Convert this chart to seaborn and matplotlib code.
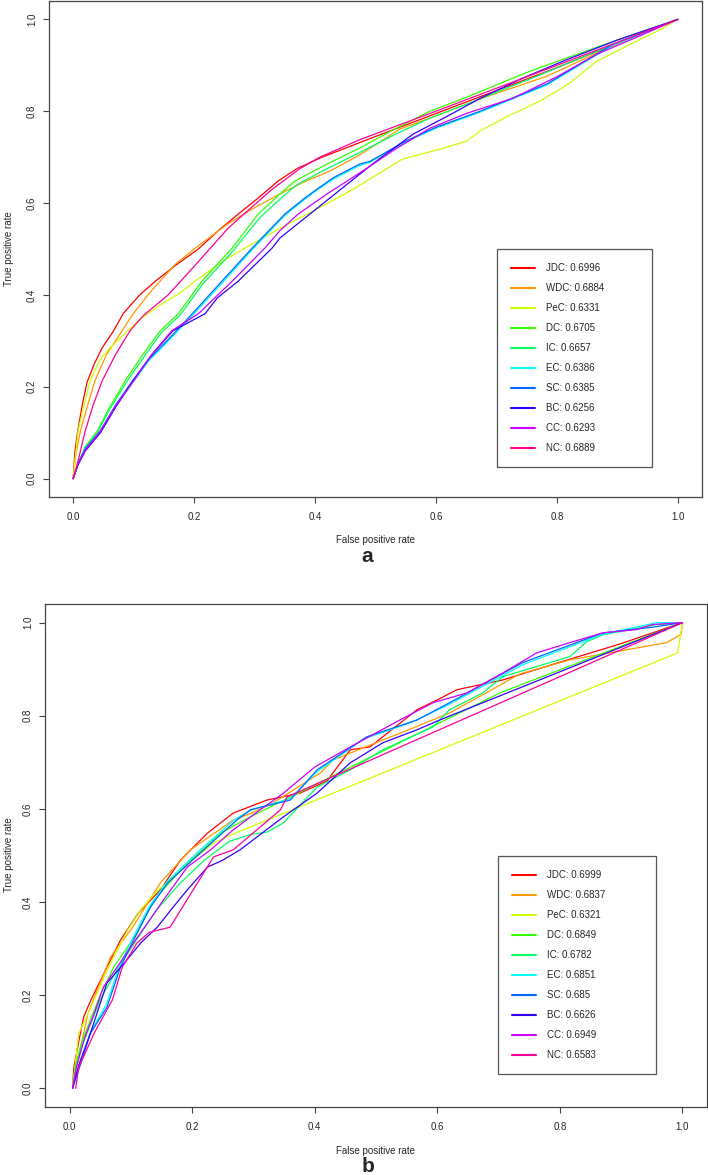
import numpy as np
import pandas as pd
import matplotlib
matplotlib.use('Agg')
import matplotlib.pyplot as plt
import seaborn as sns
from matplotlib.lines import Line2D

sns.set_theme(style='white')
plt.rcParams['font.family'] = ['Liberation Sans', 'DejaVu Sans']

# centrality measures, legend AUC values and R rainbow(10) colours
methods = ['JDC', 'WDC', 'PeC', 'DC', 'IC', 'EC', 'SC', 'BC', 'CC', 'NC']
auc_a = ['0.6996', '0.6884', '0.6331', '0.6705', '0.6657', '0.6386', '0.6385', '0.6256', '0.6293', '0.6889']
auc_b = ['0.6999', '0.6837', '0.6321', '0.6849', '0.6782', '0.6851', '0.685', '0.6626', '0.6949', '0.6583']
colors = ['#FF0000', '#FF9900', '#CCFF00', '#33FF00', '#00FF66',
          '#00FFFF', '#0066FF', '#3300FF', '#CC00FF', '#FF0099']
tick_vals = [0.0, 0.2, 0.4, 0.6, 0.8, 1.0]
tick_labels = ['0.0', '0.2', '0.4', '0.6', '0.8', '1.0']

# ---- panel a ----
jdc_a_x = [0, .003, .007, .015, .023, .035, .048, .066, .083, .11, .136, .17, .207, .24, .273, .305, .339, .37, .408, .5, .6, .7, .8, .9, 1]
jdc_a_y = [0, .06, .10, .16, .21, .25, .285, .32, .36, .40, .43, .465, .50, .54, .576, .61, .648, .675, .698, .745, .795, .845, .895, .948, 1]
wdc_a_x = [0, .004, .012, .024, .036, .055, .081, .099, .13, .169, .21, .255, .30, .342, .38, .425, .474, .54, .6, .68, .783, .88, 1]
wdc_a_y = [0, .05, .104, .16, .213, .27, .322, .359, .41, .467, .51, .554, .59, .62, .645, .67, .705, .761, .79, .83, .876, .935, 1]
pec_a_x = [0, .004, .008, .018, .028, .045, .061, .073, .107, .14, .174, .218, .25, .284, .342, .40, .463, .50, .545, .6, .651, .673, .72, .772, .82, .866, .92, .975, 1]
pec_a_y = [0, .05, .104, .16, .213, .26, .285, .30, .343, .375, .402, .446, .475, .502, .545, .585, .63, .66, .696, .715, .735, .757, .79, .822, .86, .909, .945, .98, 1]
dc_a_x = [0, .008, .02, .04, .06, .086, .115, .144, .174, .213, .263, .306, .342, .367, .42, .474, .53, .59, .65, .755, .893, 1]
dc_a_y = [0, .033, .07, .104, .155, .213, .27, .322, .359, .43, .502, .576, .62, .648, .685, .72, .76, .80, .83, .887, .952, 1]
ic_a_x = [0, .008, .02, .04, .06, .088, .117, .146, .176, .215, .265, .31, .345, .37, .42, .474, .53, .59, .65, .755, .893, 1]
ic_a_y = [0, .03, .068, .10, .15, .21, .265, .318, .355, .425, .497, .57, .612, .64, .675, .71, .748, .785, .815, .87, .945, 1]
ec_a_x = [0, .008, .02, .045, .07, .099, .126, .156, .198, .247, .297, .35, .383, .403, .43, .474, .491, .55, .6, .673, .783, .893, 1]
ec_a_y = [0, .031, .063, .102, .158, .21, .258, .298, .356, .427, .5, .573, .608, .628, .652, .682, .689, .733, .763, .798, .857, .944, 1]
sc_a_x = [0, .008, .02, .045, .07, .098, .125, .155, .197, .246, .296, .35, .383, .403, .43, .474, .491, .55, .6, .673, .783, .893, 1]
sc_a_y = [0, .033, .065, .104, .16, .213, .26, .30, .359, .43, .502, .576, .611, .63, .655, .685, .691, .735, .765, .80, .859, .946, 1]
bc_a_x = [0, .008, .02, .045, .07, .099, .13, .165, .218, .238, .273, .329, .342, .40, .453, .50, .562, .62, .673, .74, .81, .9, 1]
bc_a_y = [0, .03, .06, .10, .155, .213, .27, .322, .359, .393, .43, .502, .524, .585, .641, .69, .75, .79, .828, .87, .909, .955, 1]
cc_a_x = [0, .008, .02, .045, .07, .1, .13, .163, .207, .263, .317, .342, .372, .42, .479, .53, .59, .65, .727, .8, .866, .93, 1]
cc_a_y = [0, .032, .062, .104, .158, .213, .27, .322, .359, .43, .502, .54, .576, .62, .670, .715, .763, .795, .828, .875, .924, .96, 1]
nc_a_x = [0, .007, .02, .033, .048, .07, .094, .116, .157, .202, .256, .29, .329, .375, .408, .474, .6, .7, .8, .9, 1]
nc_a_y = [0, .033, .104, .16, .213, .27, .322, .355, .40, .465, .545, .585, .63, .675, .70, .738, .80, .85, .9, .95, 1]

# ---- panel b ----
jdc_b_x = [.005, .007, .015, .023, .035, .045, .061, .083, .112, .148, .181, .225, .267, .322, .376, .42, .458, .49, .567, .6, .632, .707, .8, .9, 1]
jdc_b_y = [0, .045, .10, .153, .19, .217, .26, .318, .376, .426, .49, .548, .591, .619, .634, .66, .727, .733, .813, .834, .856, .877, .915, .955, 1]
wdc_b_x = [.005, .01, .02, .03, .045, .067, .103, .148, .197, .267, .295, .332, .409, .43, .511, .544, .62, .653, .674, .735, .816, .974, .998, 1]
wdc_b_y = [0, .04, .10, .16, .21, .282, .346, .441, .512, .576, .59, .613, .677, .705, .748, .765, .806, .83, .845, .89, .92, .957, .975, 1]
pec_b_x = [.005, .01, .015, .03, .045, .06, .078, .095, .116, .14, .169, .2, .235, .27, .992, 1]
pec_b_y = [0, .06, .118, .16, .204, .25, .297, .34, .383, .42, .454, .49, .527, .548, .935, 1]
dc_b_x = [.005, .01, .02, .035, .05, .072, .11, .137, .186, .246, .295, .702, 1]
dc_b_y = [0, .05, .10, .15, .2, .26, .333, .404, .475, .548, .583, .849, 1]
ic_b_x = [.005, .01, .02, .035, .05, .075, .11, .14, .18, .22, .26, .295, .322, .349, .404, .458, .511, .593, .62, .674, .707, .816, .844, .87, .958, 1]
ic_b_y = [0, .04, .09, .14, .19, .25, .32, .38, .44, .49, .53, .545, .55, .57, .647, .684, .727, .776, .813, .849, .884, .927, .959, .974, .996, 1]
ec_b_x = [.005, .01, .02, .034, .06, .082, .108, .13, .16, .21, .27, .3, .36, .404, .48, .56, .62, .74, .87, .958, 1]
ec_b_y = [0, .025, .065, .12, .18, .265, .335, .39, .445, .508, .578, .6, .622, .68, .75, .787, .825, .91, .975, 1, 1]
sc_b_x = [.005, .01, .02, .034, .061, .083, .11, .132, .16, .213, .273, .295, .36, .404, .485, .567, .62, .739, .87, .95, 1]
sc_b_y = [0, .02, .06, .118, .174, .26, .333, .389, .441, .505, .576, .598, .619, .684, .755, .791, .828, .914, .978, .99, 1]
bc_b_x = [.005, .015, .034, .061, .09, .116, .143, .169, .192, .225, .25, .278, .306, .349, .404, .458, .511, .567, .604, 1]
bc_b_y = [0, .05, .118, .226, .27, .312, .346, .389, .426, .475, .49, .512, .54, .583, .634, .699, .742, .77, .791, 1]
cc_b_x = [.005, .012, .025, .04, .055, .08, .104, .13, .153, .192, .23, .267, .311, .349, .4, .458, .539, .593, .648, .707, .762, .816, .87, .925, .951, 1]
cc_b_y = [0, .05, .11, .16, .217, .265, .312, .36, .404, .475, .512, .555, .598, .634, .69, .733, .791, .828, .849, .892, .935, .957, .978, .985, .996, 1]
nc_b_x = [.01, .015, .04, .07, .086, .11, .13, .164, .235, .267, .344, .355, 1]
nc_b_y = [0, .045, .118, .19, .26, .312, .335, .346, .497, .512, .598, .626, 1]

curves_a = [(jdc_a_x, jdc_a_y), (wdc_a_x, wdc_a_y), (pec_a_x, pec_a_y), (dc_a_x, dc_a_y), (ic_a_x, ic_a_y),
            (ec_a_x, ec_a_y), (sc_a_x, sc_a_y), (bc_a_x, bc_a_y), (cc_a_x, cc_a_y), (nc_a_x, nc_a_y)]
curves_b = [(jdc_b_x, jdc_b_y), (wdc_b_x, wdc_b_y), (pec_b_x, pec_b_y), (dc_b_x, dc_b_y), (ic_b_x, ic_b_y),
            (ec_b_x, ec_b_y), (sc_b_x, sc_b_y), (bc_b_x, bc_b_y), (cc_b_x, cc_b_y), (nc_b_x, nc_b_y)]


def to_frame(curves):
    rows = []
    for name, (xs, ys) in zip(methods, curves):
        for x, y in zip(xs, ys):
            rows.append({'method': name, 'fpr': x, 'tpr': y})
    return pd.DataFrame(rows)


W, H = 708, 1175


def px_box(l, t, r, b):
    return [l / W, 1 - b / H, (r - l) / W, (b - t) / H]


fig = plt.figure(figsize=(W / 100, H / 100), dpi=100)
ax_a = fig.add_axes(px_box(49, 1, 702, 497))
ax_b = fig.add_axes(px_box(45, 604, 707, 1107))


def draw_panel(ax, curves, aucs, leg_left, leg_top, leg_w):
    df = to_frame(curves)
    sns.lineplot(data=df, x='fpr', y='tpr', hue='method', hue_order=methods, palette=colors,
                 sort=False, estimator=None, lw=0.9, legend=False, ax=ax)
    ax.set_xlim(-0.04, 1.04)
    ax.set_ylim(-0.04, 1.04)
    ax.set_xticks(tick_vals)
    ax.set_xticklabels(tick_labels)
    ax.set_yticks(tick_vals)
    ax.set_yticklabels(tick_labels, rotation=90, va='center')
    ax.tick_params(direction='out', length=4, width=0.8, color='#444444', labelsize=7,
                   bottom=True, left=True)
    ax.tick_params(axis='x', pad=7)
    ax.tick_params(axis='y', pad=4.6)
    ax.set_xlabel('')
    ax.set_ylabel('')
    for s in ax.spines.values():
        s.set_color('#444444')
        s.set_linewidth(0.9)
    handles = [Line2D([], [], color=c, lw=1.5) for c in colors]
    labels = [f'{m}: {v}' for m, v in zip(methods, aucs)]
    leg = ax.legend(handles, labels, loc='upper left',
                    bbox_to_anchor=(leg_left / W, 1 - leg_top / H, leg_w / W, 0),
                    bbox_transform=fig.transFigure, mode='expand', borderaxespad=0,
                    fancybox=False, framealpha=1, edgecolor='#555555', fontsize=7,
                    handlelength=2.5, handletextpad=1.1, labelspacing=1.03, borderpad=1.45)
    leg.get_frame().set_linewidth(0.9)


draw_panel(ax_a, curves_a, auc_a, 497, 249, 155)
draw_panel(ax_b, curves_b, auc_b, 498, 856, 158)

# axis titles and panel letters
fig.text(376 / W, 1 - 540 / H, 'False positive rate', ha='center', va='center', fontsize=7)
fig.text(367 / W, 1 - 557 / H, 'a', ha='center', va='center', fontsize=15, fontweight='bold')
fig.text(9 / W, 1 - 249 / H, 'True positive rate', ha='center', va='center', rotation=90, fontsize=7)
fig.text(376 / W, 1 - 1151 / H, 'False positive rate', ha='center', va='center', fontsize=7)
fig.text(368 / W, 1 - 1167 / H, 'b', ha='center', va='center', fontsize=15, fontweight='bold')
fig.text(9 / W, 1 - 855 / H, 'True positive rate', ha='center', va='center', rotation=90, fontsize=7)

fig.savefig('out.png', dpi=100)
